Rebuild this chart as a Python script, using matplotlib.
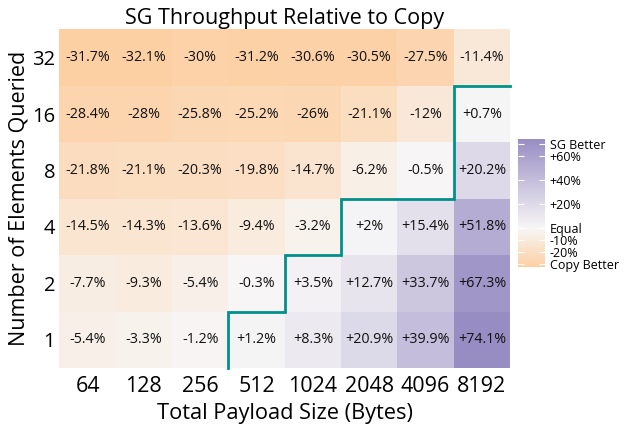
import numpy as np
import matplotlib
matplotlib.use("Agg")
import matplotlib.pyplot as plt
from matplotlib.colors import LinearSegmentedColormap, Normalize

plt.rcParams["font.family"] = ["Open Sans", "DejaVu Sans"]

payload = ["64", "128", "256", "512", "1024", "2048", "4096", "8192"]
elements = ["1", "2", "4", "8", "16", "32"]

# filas de abajo hacia arriba (1, 2, 4, 8, 16, 32)
row_1 = [-5.4, -3.3, -1.2, 1.2, 8.3, 20.9, 39.9, 74.1]
row_2 = [-7.7, -9.3, -5.4, -0.3, 3.5, 12.7, 33.7, 67.3]
row_4 = [-14.5, -14.3, -13.6, -9.4, -3.2, 2, 15.4, 51.8]
row_8 = [-21.8, -21.1, -20.3, -19.8, -14.7, -6.2, -0.5, 20.2]
row_16 = [-28.4, -28, -25.8, -25.2, -26, -21.1, -12, 0.7]
row_32 = [-31.7, -32.1, -30, -31.2, -30.6, -30.5, -27.5, -11.4]

cbar_ticks = [-30, -20, -10, 0, 20, 40, 60, 70]
cbar_labels = ["Copy Better", "-20%", "-10%", "Equal", "+20%", "+40%", "+60%", "SG Better"]

datos = np.array([row_1, row_2, row_4, row_8, row_16, row_32])
vmin, vmax = datos.min(), datos.max()
centro = (0 - vmin) / (vmax - vmin)
cmap = LinearSegmentedColormap.from_list(
    "sg", [(0, "#fdd0a4"), (centro, "#f7f6f6"), (1, "#988dc3")]
)
norm = Normalize(vmin, vmax)

fig = plt.figure(figsize=(6.32, 4.25), dpi=100)
ax = fig.add_axes([0.094, 0.134, 0.713, 0.797])
cax = fig.add_axes([0.820, 0.372, 0.043, 0.301])

filas, cols = datos.shape
mesh = ax.pcolormesh(np.arange(cols + 1), np.arange(filas + 1), datos, cmap=cmap, norm=norm)

for i in range(filas):
    for j in range(cols):
        ax.text(j + 0.5, i + 0.5, f"{datos[i, j]:+g}%".replace("+-", "-"),
                ha="center", va="center", fontsize=10.3, color="#111111")

# linea escalonada entre celdas negativas y positivas
positivos = (datos > 0).sum(axis=0)
xs, ys = [], []
for j in range(cols):
    if positivos[j] == 0 and not xs:
        continue
    if not xs:
        xs.append(j)
        ys.append(0)
    xs += [j, j + 1]
    ys += [positivos[j], positivos[j]]
ax.plot(xs, ys, color="#00918a", lw=2, clip_on=False, solid_joinstyle="miter")

ax.set_xlim(0, cols)
ax.set_ylim(0, filas)
ax.set_xticks(np.arange(cols) + 0.5)
ax.set_xticklabels(payload, fontsize=15.5)
ax.set_yticks(np.arange(filas) + 0.5)
ax.set_yticklabels(elements, fontsize=14.5)
ax.tick_params(length=0)
ax.tick_params(axis="x", pad=6)
ax.tick_params(axis="y", pad=3)
for s in ax.spines.values():
    s.set_visible(False)
ax.set_xlabel("Total Payload Size (Bytes)", fontsize=15.7, labelpad=4)
ax.set_ylabel("Number of Elements Queried", fontsize=15.5, labelpad=2)
ax.set_title("SG Throughput Relative to Copy", fontsize=15.5, pad=4)

cbar = fig.colorbar(mesh, cax=cax)
cbar.outline.set_visible(False)
cbar.set_ticks(cbar_ticks)
cbar.set_ticklabels(cbar_labels)
cax.tick_params(direction="in", color="white", length=4, width=0.8,
                left=True, right=True, labelsize=9)
cax.yaxis.set_tick_params(pad=3)

fig.savefig("out.png", dpi=100)
